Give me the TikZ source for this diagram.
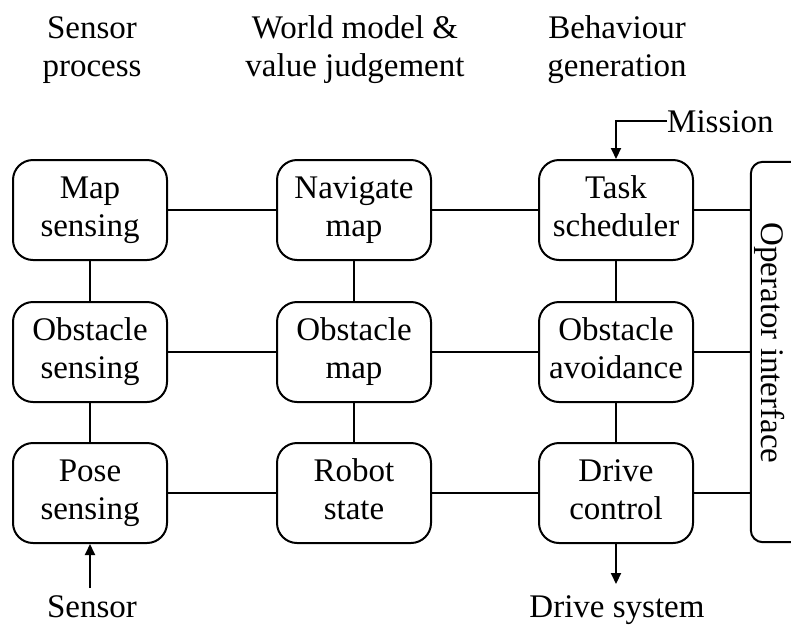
\documentclass[tikz,border=0pt]{standalone}
\usepackage{fontspec}
\setmainfont{Liberation Serif}
\usetikzlibrary{arrows.meta}
\newcommand{\tline}[1]{#1\strut}
\begin{document}
\begin{tikzpicture}[x=1pt,y=-1pt,
  box/.style={draw,line width=2pt,rounded corners=20pt,minimum width=154pt,minimum height=100pt,inner sep=0pt,align=center,font=\fontsize{33}{38}\selectfont},
  lbl/.style={inner sep=0pt,align=center,font=\fontsize{33}{38}\selectfont},
  conn/.style={line width=2pt},
  arr/.style={line width=2pt,-{Triangle[length=11pt,width=10pt]}}]
\useasboundingbox (0,0) rectangle (791,627);
% headers
\node[lbl] (h1) at (92,50) {\tline{Sensor}\\\tline{process}};
\node[lbl] (h2) at (355,50) {\tline{World model \&}\\\tline{value judgement}};
\node[lbl] (h3) at (617,50) {\tline{Behaviour}\\\tline{generation}};
% boxes
\node[box] (a1) at (90,210) {\tline{Map}\\\tline{sensing}};
\node[box] (a2) at (90,352) {\tline{Obstacle}\\\tline{sensing}};
\node[box] (a3) at (90,493) {\tline{Pose}\\\tline{sensing}};
\node[box] (b1) at (354,210) {\tline{Navigate}\\\tline{map}};
\node[box] (b2) at (354,352) {\tline{Obstacle}\\\tline{map}};
\node[box] (b3) at (354,493) {\tline{Robot}\\\tline{state}};
\node[box] (c1) at (616,210) {\tline{Task}\\\tline{scheduler}};
\node[box] (c2) at (616,352) {\tline{Obstacle}\\\tline{avoidance}};
\node[box] (c3) at (616,493) {\tline{Drive}\\\tline{control}};
% operator interface
\node[draw=none,minimum width=44pt,minimum height=380pt,inner sep=0pt] (op) at (773,352) {};
\draw[line width=2pt,rounded corners=12pt] (op.north east) -- (op.north west) -- (op.south west) -- (op.south east);
\node[lbl,rotate=-90] (opt) at (770,343) {Operator interface};
% connectors
\foreach \r in {1,2,3}{
  \draw[conn] (a\r) -- (b\r);
  \draw[conn] (b\r) -- (c\r);
  \draw[conn] (c\r.east) -- (c\r.east -| op.west);
}
\foreach \c in {a,b,c}{
  \draw[conn] (\c1) -- (\c2);
  \draw[conn] (\c2) -- (\c3);
}
% inputs / outputs
\node[lbl,anchor=base west] (mis) at (667,132) {Mission};
\draw[arr] (mis.west) -| (c1.north);
\node[lbl,anchor=base] (sen) at (92,617) {Sensor};
\coordinate (senTop) at (90,588);
\draw[arr] (senTop) -- (a3.south);
\node[lbl,anchor=base] (drv) at (617,617) {Drive system};
\draw[arr] (c3.south) -- (616,584);
\end{tikzpicture}
\end{document}
